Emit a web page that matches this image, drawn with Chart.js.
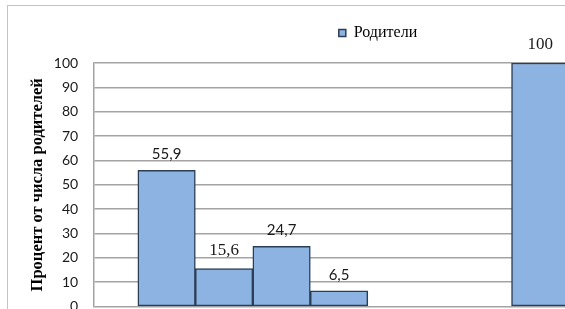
<!DOCTYPE html>
<html>
<head>
<meta charset="utf-8">
<script src="https://cdn.jsdelivr.net/npm/chart.js@4"></script>
<style>
  html, body { margin: 0; padding: 0; background: #fff; overflow: hidden; width: 565px; height: 309px; }
  #frame { position: absolute; left: 7px; top: 5px; width: 800px; height: 400px; border: 1px solid #c3c3c3; }
  #chart { position: absolute; left: 8px; top: 6px; }
</style>
</head>
<body>
<div id="frame"></div>
<canvas id="chart" width="724" height="325"></canvas>
<script>
const seriesName = "Родители";
const groupPos = [1, 2, 3, 4, 7.5];
const values = [55.9, 15.6, 24.7, 6.5, 100];
const yMin = 0, yMax = 100, yStep = 10;
const axisTitle = "Процент от числа родителей";

// label fonts differ in the original (some sans, some serif)
const labelFonts = ["Lato", "Liberation Serif", "Lato", "Lato", "Liberation Serif"];

const barLabels = {
  id: "barLabels",
  afterDatasetsDraw(chart) {
    const ctx = chart.ctx;
    chart.getDatasetMeta(0).data.forEach((bar, i) => {
      const serif = labelFonts[i] === "Liberation Serif";
      ctx.save();
      ctx.font = (serif ? "17px " : "15px ") + labelFonts[i];
      ctx.fillStyle = "#1a1a1a";
      ctx.textAlign = "center";
      ctx.textBaseline = "middle";
      ctx.fillText(values[i].toString().replace(".", ","), bar.x, bar.y - (serif ? 18 : 16));
      ctx.restore();
    });
  }
};

// extra room under the legend
const legendGap = {
  id: "legendGap",
  beforeInit(chart) {
    const fit = chart.legend.fit;
    chart.legend.fit = function () {
      fit.bind(chart.legend)();
      this.height += 12;
    };
  }
};

new Chart(document.getElementById("chart").getContext("2d"), {
  type: "bar",
  data: {
    datasets: [{
      label: seriesName,
      data: values.map((v, i) => ({ x: groupPos[i], y: v })),
      backgroundColor: "#8db3e2",
      borderColor: "#2b3e56",
      borderWidth: 1.5,
      borderSkipped: false,
      barPercentage: 1,
      categoryPercentage: 1
    }]
  },
  options: {
    responsive: false,
    animation: false,
    layout: { padding: { left: 16, right: 0, top: 9, bottom: 12 } },
    plugins: {
      tooltip: { enabled: false },
      legend: {
        position: "top",
        labels: {
          boxWidth: 7,
          boxHeight: 7,
          color: "#000",
          font: { family: "Liberation Serif", size: 16 },
          padding: 10
        }
      }
    },
    scales: {
      x: {
        type: "linear",
        display: false,
        offset: false,
        bounds: "data",
        min: -0.26,
        max: 10.835,
        ticks: { stepSize: 1, includeBounds: false }
      },
      y: {
        min: yMin,
        max: yMax,
        afterFit(scale) { scale.width -= 14; },
        ticks: {
          stepSize: yStep,
          color: "#1a1a1a",
          padding: 16,
          font: { family: "Lato", size: 14 }
        },
        grid: { color: "#a3a3a3", lineWidth: 1.5, drawTicks: false },
        border: { display: true, color: "#a3a3a3", width: 1.5 },
        title: {
          display: true,
          text: axisTitle,
          color: "#000",
          padding: { top: 4, bottom: 4 },
          font: { family: "Liberation Serif", size: 16.5, weight: "bold" }
        }
      }
    }
  },
  plugins: [barLabels, legendGap]
});
</script>
</body>
</html>
